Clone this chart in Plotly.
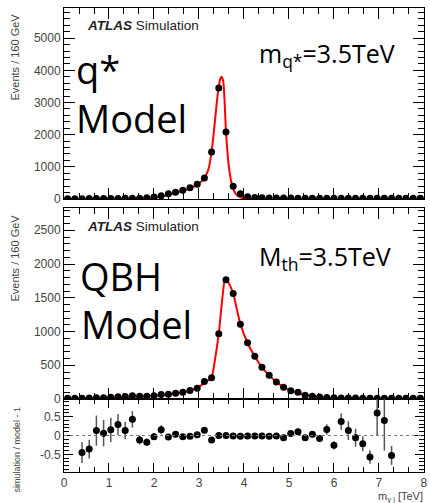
import plotly.graph_objects as go

# ---------------- data ----------------
bin_centers = [0.08, 0.24, 0.40, 0.56, 0.72, 0.88, 1.04, 1.20, 1.36, 1.52,
               1.68, 1.84, 2.00, 2.16, 2.32, 2.48, 2.64, 2.80, 2.96, 3.12,
               3.28, 3.44, 3.60, 3.76, 3.92, 4.08, 4.24, 4.40, 4.56, 4.72,
               4.88, 5.04, 5.20, 5.36, 5.52, 5.68, 5.84, 6.00, 6.16, 6.32,
               6.48, 6.64, 6.80, 6.96, 7.12, 7.28, 7.44, 7.60, 7.76, 7.92]

qstar_events = [8, 10, 10, 12, 14, 15, 16, 18, 20, 22,
                26, 40, 60, 100, 160, 210, 270, 350, 460, 650,
                1460, 3450, 2080, 400, 160, 70, 45, 35, 30, 30,
                28, 28, 26, 26, 25, 25, 25, 25, 25, 25,
                24, 24, 24, 24, 24, 24, 24, 24, 24, 24]

qstar_model_x = [0.0, 0.5, 1.0, 1.5, 2.0, 2.3, 2.6, 2.9, 3.1, 3.2, 3.28, 3.36,
                 3.42, 3.47, 3.5, 3.54, 3.6, 3.66, 3.72, 3.78, 3.85, 3.92,
                 4.0, 4.2, 5.0, 6.0, 7.0, 8.0]
qstar_model_y = [0, 3, 8, 15, 40, 120, 230, 400, 610, 880, 1460, 2500,
                 3300, 3720, 3800, 3650, 2100, 1050, 520, 250, 110, 50,
                 20, 6, 3, 2, 1, 1]

qbh_events = [10, 10, 12, 15, 18, 20, 25, 32, 38, 48,
              40, 42, 50, 65, 72, 85, 100, 125, 160, 260,
              315, 967, 1766, 1562, 1106, 833, 635, 471, 352, 253,
              174, 124, 99, 55, 40, 30, 22, 18, 15, 14,
              13, 12, 12, 12, 12, 12, 12, 12, 12, 12]

qbh_model_x = [0.0, 0.5, 1.0, 1.5, 2.0, 2.4, 2.7, 2.9, 3.1, 3.2, 3.28, 3.36,
               3.44, 3.52, 3.58, 3.64, 3.76, 3.92, 4.08, 4.24, 4.40, 4.56,
               4.72, 4.88, 5.04, 5.20, 5.40, 5.60, 6.00, 7.00, 8.00]
qbh_model_y = [5, 10, 20, 34, 50, 75, 105, 150, 225, 275, 320, 600,
               967, 1500, 1770, 1740, 1560, 1110, 830, 630, 470, 350,
               252, 175, 125, 92, 55, 35, 18, 8, 5]

ratio_values = [None, None, -0.45, -0.36, 0.13, 0.06, 0.15, 0.29, 0.13, 0.43,
                -0.12, -0.18, -0.03, 0.15, -0.04, 0.03, -0.03, -0.02, 0.02, 0.14,
                -0.12, 0.00, 0.00, -0.01, -0.02, -0.01, -0.01, -0.01, -0.02, -0.01,
                -0.06, 0.05, 0.10, -0.06, 0.03, -0.08, 0.16, -0.26, 0.37, 0.13,
                -0.06, -0.22, -0.57, 0.60, 0.40, -0.53, None, None, None, None]
ratio_errors = [None, None, 0.28, 0.25, 0.40, 0.35, 0.32, 0.28, 0.23, 0.22,
                0.12, 0.10, 0.09, 0.12, 0.07, 0.07, 0.05, 0.05, 0.04, 0.04,
                0.04, 0.02, 0.02, 0.02, 0.02, 0.02, 0.02, 0.02, 0.02, 0.02,
                0.03, 0.04, 0.05, 0.06, 0.08, 0.09, 0.14, 0.11, 0.22, 0.25,
                0.24, 0.20, 0.18, 0.60, 0.80, 0.25, None, None, None, None]

x_ticks = [0, 1, 2, 3, 4, 5, 6, 7, 8]
x_range = [0, 8.001]

# ---------------- layout helpers ----------------
W, H = 430, 503
ML, MR, MT, MB = 64, 2, 8, 31
PW, PH = W - ML - MR, H - MT - MB


def px_x(px):
    return (px - ML) / PW


def px_y(py):
    return (H - MB - py) / PH


top_dom = [px_y(199), 1.0]
mid_dom = [px_y(399), px_y(208)]
bot_dom = [0.0, px_y(399)]

fig = go.Figure()

red = "#ff0000"
fig.add_trace(go.Scatter(x=qstar_model_x, y=qstar_model_y, mode="lines",
                         line=dict(color=red, width=2, shape="spline", smoothing=0.6),
                         xaxis="x", yaxis="y", hoverinfo="skip"))
fig.add_trace(go.Scatter(x=bin_centers, y=qstar_events, mode="markers",
                         marker=dict(color="black", size=7),
                         xaxis="x", yaxis="y"))
fig.add_trace(go.Scatter(x=qbh_model_x, y=qbh_model_y, mode="lines",
                         line=dict(color=red, width=2, shape="spline", smoothing=0.6),
                         xaxis="x2", yaxis="y2", hoverinfo="skip"))
fig.add_trace(go.Scatter(x=bin_centers, y=qbh_events, mode="markers",
                         marker=dict(color="black", size=7),
                         xaxis="x2", yaxis="y2"))
fig.add_trace(go.Scatter(x=bin_centers, y=ratio_values, mode="markers",
                         marker=dict(color="black", size=7),
                         error_y=dict(type="data", array=ratio_errors, visible=True,
                                      color="#555555", thickness=1.5, width=0),
                         xaxis="x3", yaxis="y3"))

fig.add_shape(type="line", xref="x3 domain", yref="y3", x0=0, x1=1, y0=0, y1=0,
              line=dict(color="#777777", width=1, dash="dot"))

tickfont = dict(family="Liberation Sans, Arial, sans-serif", size=12, color="#444444")


def xaxis_style(anchor, labels, ticklen, minlen):
    return dict(range=x_range, anchor=anchor, showline=True, linecolor="black",
                linewidth=1, mirror="allticks", ticks="inside", ticklen=ticklen,
                tickcolor="black", tickvals=x_ticks, showticklabels=labels,
                tickfont=tickfont, showgrid=False, zeroline=False,
                ticklabeloverflow="allow",
                minor=dict(ticks="inside", ticklen=minlen, dtick=1 / 3,
                           tickcolor="black", showgrid=False))


def yaxis_style(anchor, dom, rng, dtick, mdtick, ticklen, minlen):
    return dict(domain=dom, range=rng, anchor=anchor, showline=True, linecolor="black",
                linewidth=1, mirror="allticks", ticks="inside", ticklen=ticklen,
                tickcolor="black", dtick=dtick, tickfont=tickfont,
                showgrid=False, zeroline=False,
                minor=dict(ticks="inside", ticklen=minlen, dtick=mdtick,
                           tickcolor="black", showgrid=False))


fig.update_layout(
    width=W, height=H,
    margin=dict(l=ML, r=MR, t=MT, b=MB),
    paper_bgcolor="white", plot_bgcolor="white",
    showlegend=False,
    xaxis=xaxis_style("y", False, 11, 6),
    xaxis2=xaxis_style("y2", False, 11, 6),
    xaxis3=xaxis_style("y3", True, 9, 5),
    yaxis=yaxis_style("x", top_dom, [0, 5940], 1000, 200, 11, 6),
    yaxis2=yaxis_style("x2", mid_dom, [0, 2830], 500, 100, 11, 6),
    yaxis3=yaxis_style("x3", bot_dom, [-0.97, 0.97], 0.5, 0.1, 9, 5),
)
fig.layout.yaxis3.tickvals = [-0.5, 0, 0.5]
fig.layout.yaxis3.ticktext = ["-0.5", "0", "0.5"]

ann = []
titlefont = dict(family="Liberation Sans, Arial, sans-serif", size=11, color="#444444")
ann.append(dict(text="Events / 160 GeV", x=px_x(14), y=px_y(57), textangle=-90,
                font=titlefont))
ann.append(dict(text="Events / 160 GeV", x=px_x(14), y=px_y(258), textangle=-90,
                font=titlefont))
ann.append(dict(text="simulation / model - 1", x=px_x(16), y=px_y(450), textangle=-90,
                font=dict(family="Liberation Sans, Arial, sans-serif", size=9, color="#444444")))
ann.append(dict(text="m<sub>γ j</sub> [TeV]", x=px_x(429), y=px_y(497), xanchor="right",
                font=dict(family="Liberation Sans, Arial, sans-serif", size=11, color="#444444")))

atlas_font = dict(family="Liberation Sans, Arial, sans-serif", size=13.5, color="#222222")
ann.append(dict(text="<b><i>ATLAS</i></b> Simulation", x=px_x(85), y=px_y(25),
                xanchor="left", font=atlas_font))
ann.append(dict(text="<b><i>ATLAS</i></b> Simulation", x=px_x(85), y=px_y(227),
                xanchor="left", font=atlas_font))

big = dict(family="Open Sans, sans-serif", size=38, color="black")
ann.append(dict(text="q*", x=px_x(74), y=px_y(69), xanchor="left", font=big))
ann.append(dict(text="Model", x=px_x(74), y=px_y(118), xanchor="left", font=big))
ann.append(dict(text="QBH", x=px_x(78), y=px_y(276), xanchor="left", font=big))
ann.append(dict(text="Model", x=px_x(79), y=px_y(324), xanchor="left", font=big))

mid = dict(family="Open Sans, sans-serif", size=25, color="black")
ann.append(dict(text="m<sub>q*</sub>=3.5TeV", x=px_x(259), y=px_y(54), xanchor="left", font=mid))
ann.append(dict(text="M<sub>th</sub>=3.5TeV", x=px_x(259), y=px_y(257), xanchor="left", font=mid))

for a in ann:
    a.setdefault("xref", "paper")
    a.setdefault("yref", "paper")
    a.setdefault("showarrow", False)
    a.setdefault("xanchor", "center")
    a.setdefault("yanchor", "middle")
fig.update_layout(annotations=ann)

fig.write_html("out.html")
